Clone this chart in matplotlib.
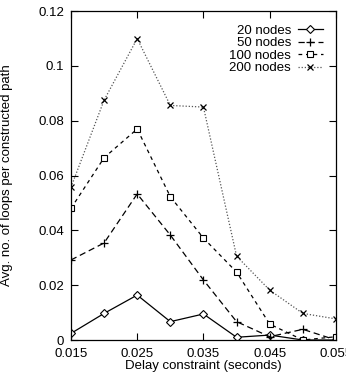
import matplotlib
matplotlib.use("Agg")
import matplotlib.pyplot as plt

plt.rcParams['font.family'] = ['Liberation Sans', 'DejaVu Sans']

x = [0.015, 0.020, 0.025, 0.030, 0.035, 0.040, 0.045, 0.050, 0.055]
n20 = [0.0024, 0.0097, 0.0164, 0.0067, 0.0095, 0.0010, 0.0018, 0.0, 0.0]
n50 = [0.0292, 0.0354, 0.0533, 0.0383, 0.0219, 0.0067, 0.0012, 0.0039, 0.0]
n100 = [0.0480, 0.0665, 0.0770, 0.0523, 0.0372, 0.0248, 0.0058, 0.0, 0.0012]
n200 = [0.0557, 0.0875, 0.1100, 0.0856, 0.0850, 0.0306, 0.0182, 0.0097, 0.0077]
labels = ['20 nodes', '50 nodes', '100 nodes', '200 nodes']
xticks = [0.015, 0.025, 0.035, 0.045, 0.055]
yticks = [0, 0.02, 0.04, 0.06, 0.08, 0.1, 0.12]
ytick_labels = ['0', '0.02', '0.04', '0.06', '0.08', '0.1', '0.12']

fig = plt.figure(figsize=(3.46, 3.72), dpi=100)
ax = fig.add_axes([0.205, 0.086, 0.766, 0.884])

fs = 9.5
ax.plot(x, n20, color='black', lw=0.9, ls='-', marker='D', ms=4, mfc='white', mec='black', mew=0.8, label=labels[0])
ax.plot(x, n50, color='black', lw=0.9, ls=(0, (5, 3)), marker='+', ms=6, mew=0.9, label=labels[1])
ax.plot(x, n100, color='black', lw=0.9, ls=(0, (3, 3)), marker='s', ms=5, mfc='white', mec='black', mew=0.8, label=labels[2])
ax.plot(x, n200, color='#555555', lw=0.9, ls=(0, (1, 1.5)), marker='x', ms=5, mec='black', mew=0.9, label=labels[3])

ax.set_xlim(0.015, 0.055)
ax.set_ylim(0, 0.12)
ax.set_xticks(xticks)
ax.set_xticklabels([f'{v:g}' for v in xticks])
ax.set_yticks(yticks)
ax.set_yticklabels(ytick_labels)
ax.tick_params(direction='in', top=True, right=True, length=5, labelsize=fs, width=0.8)
ax.tick_params(axis='x', pad=6)
ax.tick_params(axis='y', pad=5)
for s in ax.spines.values():
    s.set_linewidth(0.9)

ax.set_xlabel('Delay constraint (seconds)', fontsize=fs, labelpad=0)
ax.set_ylabel('Avg. no. of loops per constructed path', fontsize=fs, labelpad=18)

ax.legend(loc='upper right', bbox_to_anchor=(0.95, 0.96), markerfirst=False, frameon=False, fontsize=fs,
          handlelength=1.9, handletextpad=0.5, labelspacing=0.03, borderaxespad=0, borderpad=0)

fig.savefig('out.png', dpi=100)
